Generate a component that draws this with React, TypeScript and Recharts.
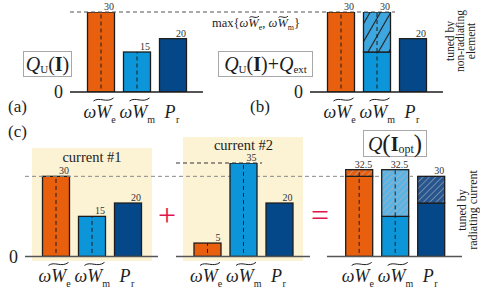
import React from "react";
import { BarChart, Bar, XAxis, YAxis, ReferenceLine } from "recharts";

const SERIF = "Liberation Serif, DejaVu Serif, serif";
const INK = "#1d1d1d";
const CREAM = "#FCF2D4";
const RED = "#E0144C";

const categories = ["We", "Wm", "Pr"];

// (a) Q_U(I)
const qU = [30, 15, 20];
// (b) Q_U(I) + Q_ext
const qExtBase = [30, 15, 20];
const qExtAdded = [0, 15, 0];
// (c) current #1 + current #2 = Q(I_opt)
const current1 = [30, 15, 20];
const current2 = [5, 35, 20];
const optBase = [30, 15, 20];
const optAdded = [2.5, 17.5, 10];

const barColors = ["#E85F0E", "#0C95D8", "#05488A"];
const hatchB = ["url(#hb)", "url(#hb)", "url(#hb)"];
const hatchOpt = ["url(#ho)", "url(#hl)", "url(#hd)"];
const dashedCenter = [true, true, false];

function tildePath(x0: number, yc: number, w: number) {
  return `M${x0} ${yc + 1.5} C${x0 + w * 0.3} ${yc - 3} ${x0 + w * 0.65} ${yc + 4} ${x0 + w} ${yc - 1.5}`;
}

function MathTick(props: any) {
  const { x, y, payload } = props;
  const b = y + 26;
  if (payload.value === "Pr") {
    return (
      <text x={x - 8} y={b} fontFamily={SERIF} fill={INK} fontSize={18}>
        <tspan fontStyle="italic">P</tspan>
        <tspan fontSize={10} dy={5} dx={0.5}>r</tspan>
      </text>
    );
  }
  const sub = payload.value === "We" ? "e" : "m";
  return (
    <g>
      <text x={x - 17} y={b} fontFamily={SERIF} fill={INK} fontSize={18}>
        <tspan fontStyle="italic">ω</tspan>
        <tspan fontStyle="italic">W</tspan>
        <tspan fontSize={10} dy={5}>{sub}</tspan>
      </text>
      <path d={tildePath(x - 7, b - 18.5, 20)} fill="none" stroke={INK} strokeWidth={1} />
    </g>
  );
}

const makeShape = (fills: string[], bottom: boolean) => (props: any) => {
  const { x, y, width, height, index } = props;
  if (!height || height <= 0) return <g />;
  const cx = x + width / 2;
  return (
    <g>
      <rect x={x} y={y} width={width} height={height} fill={fills[index]} stroke={INK} strokeWidth={1.3} />
      {dashedCenter[index] && (
        <line x1={cx} x2={cx} y1={y + height + (bottom ? 3.5 : 0)} y2={y} stroke={INK} strokeWidth={1} strokeDasharray="4 3" />
      )}
    </g>
  );
};

const makeLabel = (totals: number[]) => (props: any) => {
  const { x, y, width, index } = props;
  return (
    <text x={Number(x) + Number(width) - 0.5} y={Number(y) - 2} textAnchor="end" fontSize={10} fontFamily={SERIF} fill="#333">
      {totals[index]}
    </text>
  );
};

const refShape = (len: number, color: string) => (props: any) => (
  <line x1={props.x1} y1={props.y1} x2={props.x1 + len} y2={props.y1} stroke={color} strokeWidth={1} strokeDasharray="4 3" />
);

type PanelProps = {
  left: number;
  right: number;
  baseY: number;
  topY: number;
  maxVal: number;
  padL: number;
  padR: number;
  base: number[];
  added?: number[];
  addedFills?: string[];
  zero: boolean;
  axisColor: string;
  refY?: number;
  refLen?: number;
  refColor?: string;
};

function Panel(p: PanelProps) {
  const yw = p.zero ? 20 : 0;
  const MT = 14;
  const XH = 36;
  const chartLeft = p.left - yw;
  const chartTop = p.topY - MT;
  const width = p.right - chartLeft;
  const height = p.baseY + XH - chartTop;
  const rows = categories.map((k, i) => ({ k, base: p.base[i], added: p.added ? p.added[i] : 0 }));
  const totals = rows.map((r) => r.base + r.added);
  return (
    <div style={{ position: "absolute", left: chartLeft, top: chartTop }}>
      <BarChart width={width} height={height} data={rows} margin={{ top: MT, right: 0, bottom: 0, left: 0 }} barSize={27}>
        <XAxis
          dataKey="k"
          padding={{ left: p.padL, right: p.padR }}
          tickLine={false}
          tickSize={0}
          tickMargin={0}
          axisLine={{ stroke: p.axisColor, strokeWidth: 1.5 }}
          tick={<MathTick />}
          interval={0}
          height={XH}
        />
        <YAxis
          hide={!p.zero}
          width={yw}
          type="number"
          domain={[0, p.maxVal]}
          ticks={[0]}
          allowDataOverflow
          tickLine={false}
          axisLine={false}
          tickSize={0}
          tickMargin={7}
          tick={{ fontSize: 18, fontFamily: SERIF, fill: INK }}
        />
        {p.refY !== undefined && (
          <ReferenceLine y={p.refY} shape={refShape(p.refLen || 0, p.refColor || "#555")} />
        )}
        <Bar
          dataKey="base"
          stackId="s"
          isAnimationActive={false}
          shape={makeShape(barColors, true)}
          label={p.added ? undefined : makeLabel(totals)}
        />
        {p.added && (
          <Bar
            dataKey="added"
            stackId="s"
            isAnimationActive={false}
            shape={makeShape(p.addedFills || barColors, false)}
            label={makeLabel(totals)}
          />
        )}
      </BarChart>
    </div>
  );
}

function TW({ size }: { size: number }) {
  return (
    <span style={{ position: "relative", display: "inline-block", fontStyle: "italic" }}>
      W
      <svg
        style={{ position: "absolute", left: 1, top: -size * 0.12, overflow: "visible" }}
        width="100%"
        height={size * 0.3}
        viewBox="0 0 20 6"
        preserveAspectRatio="none"
      >
        <path d="M1 4 C6 0 12 7 19 2" fill="none" stroke={INK} strokeWidth={1} vectorEffect="non-scaling-stroke" />
      </svg>
    </span>
  );
}

const sub = (t: string, size = 11, drop = 5) => (
  <span style={{ fontSize: size, position: "relative", top: drop, fontStyle: "normal" }}>{t}</span>
);

const boxStyle = (left: number, top: number, w: number, h: number): React.CSSProperties => ({
  position: "absolute",
  left,
  top,
  width: w,
  height: h,
  boxSizing: "border-box",
  border: "1.5px solid #a8a8a8",
  display: "flex",
  alignItems: "center",
  justifyContent: "center",
  fontSize: 20,
  lineHeight: 1,
  whiteSpace: "nowrap",
});

export default function App() {
  return (
    <div
      style={{
        position: "absolute",
        left: 0,
        top: 0,
        width: 480,
        height: 293,
        background: "#fff",
        overflow: "hidden",
        fontFamily: SERIF,
        color: INK,
      }}
    >
      <style>{`.recharts-surface{overflow:visible}`}</style>
      <svg width={0} height={0} style={{ position: "absolute" }}>
        <defs>
          <pattern id="hb" width={9} height={9} patternUnits="userSpaceOnUse" patternTransform="rotate(30)">
            <rect width={9} height={9} fill="#3FA7E0" />
            <line x1={4.5} y1={0} x2={4.5} y2={9} stroke={INK} strokeWidth={1.1} />
          </pattern>
          <pattern id="ho" width={4.5} height={4.5} patternUnits="userSpaceOnUse" patternTransform="rotate(45)">
            <rect width={4.5} height={4.5} fill="#E85F0E" />
            <line x1={2.25} y1={0} x2={2.25} y2={4.5} stroke="#C09C86" strokeWidth={0.8} />
          </pattern>
          <pattern id="hl" width={4.5} height={4.5} patternUnits="userSpaceOnUse" patternTransform="rotate(45)">
            <rect width={4.5} height={4.5} fill="#5AB4E6" />
            <line x1={2.25} y1={0} x2={2.25} y2={4.5} stroke="#A4B0BA" strokeWidth={0.8} />
          </pattern>
          <pattern id="hd" width={4.5} height={4.5} patternUnits="userSpaceOnUse" patternTransform="rotate(45)">
            <rect width={4.5} height={4.5} fill="#27558E" />
            <line x1={2.25} y1={0} x2={2.25} y2={4.5} stroke="#8496B0" strokeWidth={0.8} />
          </pattern>
        </defs>
      </svg>

      <div style={{ position: "absolute", left: 32, top: 148, width: 120, height: 113, background: CREAM }} />
      <div style={{ position: "absolute", left: 183, top: 137, width: 120, height: 124, background: CREAM }} />

      <Panel left={70} right={203} baseY={92} topY={12} maxVal={30} padL={12.5} padR={12.5} base={qU}
        zero axisColor={INK} refY={30} refLen={325} refColor="#555" />
      <Panel left={310} right={443} baseY={92} topY={12} maxVal={30} padL={12.5} padR={12.5} base={qExtBase}
        added={qExtAdded} addedFills={hatchB} zero axisColor={INK} />
      <Panel left={25} right={158} baseY={256.7} topY={163.3} maxVal={35} padL={12.5} padR={12.5} base={current1}
        zero axisColor="#555" refY={30} refLen={388} refColor="#888" />
      <Panel left={176} right={310} baseY={256.7} topY={163.3} maxVal={35} padL={13} padR={13} base={current2}
        zero={false} axisColor="#555" refY={35} refLen={86} refColor="#333" />
      <Panel left={327} right={462} baseY={256.7} topY={163.3} maxVal={35} padL={13.7} padR={13.3} base={optBase}
        added={optAdded} addedFills={hatchOpt} zero={false} axisColor="#555" />

      <div style={boxStyle(23, 51, 49, 26)}>
        <i>Q</i>{sub("U")}(<b>I</b>)
      </div>
      <div style={boxStyle(218, 51, 95, 26)}>
        <i>Q</i>{sub("U")}(<b>I</b>)+<i>Q</i>{sub("ext")}
      </div>
      <div style={boxStyle(363, 130, 64, 27)}>
        <i>Q</i><span style={{ fontSize: 25 }}>(</span><b>I</b>{sub("opt", 12, 5)}<span style={{ fontSize: 25 }}>)</span>
      </div>

      <div style={{ position: "absolute", left: 212, top: 16, fontSize: 12.5, whiteSpace: "nowrap" }}>
        max{"{"}<i>ω</i><TW size={12.5} />{sub("e", 8, 3)}, <i>ω</i><TW size={12.5} />{sub("m", 8, 3)}{"}"}
      </div>

      <svg width={480} height={293} style={{ position: "absolute", left: 0, top: 0, pointerEvents: "none" }} fontFamily={SERIF} fill={INK}>
        <text x={8} y={112} fontSize={17}>(a)</text>
        <text x={250} y={112} fontSize={17}>(b)</text>
        <text x={8} y={137} fontSize={17}>(c)</text>
        <text x={92} y={162} fontSize={14.5} textAnchor="middle">current #1</text>
        <text x={243.5} y={149.5} fontSize={14.5} textAnchor="middle">current #2</text>
        <text x={167} y={226} fontSize={32} textAnchor="middle" fill={RED}>+</text>
        <text x={320} y={226} fontSize={32} textAnchor="middle" fill={RED}>=</text>

        <g fontSize={11.5} textAnchor="middle">
          <text transform="rotate(-90 454 41)" x={454} y={41}>tuned by</text>
          <text transform="rotate(-90 464 41)" x={464} y={41}>non-radiating</text>
          <text transform="rotate(-90 474.5 41)" x={474.5} y={41}>element</text>
        </g>
        <g fontSize={12} textAnchor="middle">
          <text transform="rotate(-90 465.5 210)" x={465.5} y={210}>tuned by</text>
          <text transform="rotate(-90 476.5 210)" x={476.5} y={210}>radiating current</text>
        </g>
      </svg>
    </div>
  );
}
